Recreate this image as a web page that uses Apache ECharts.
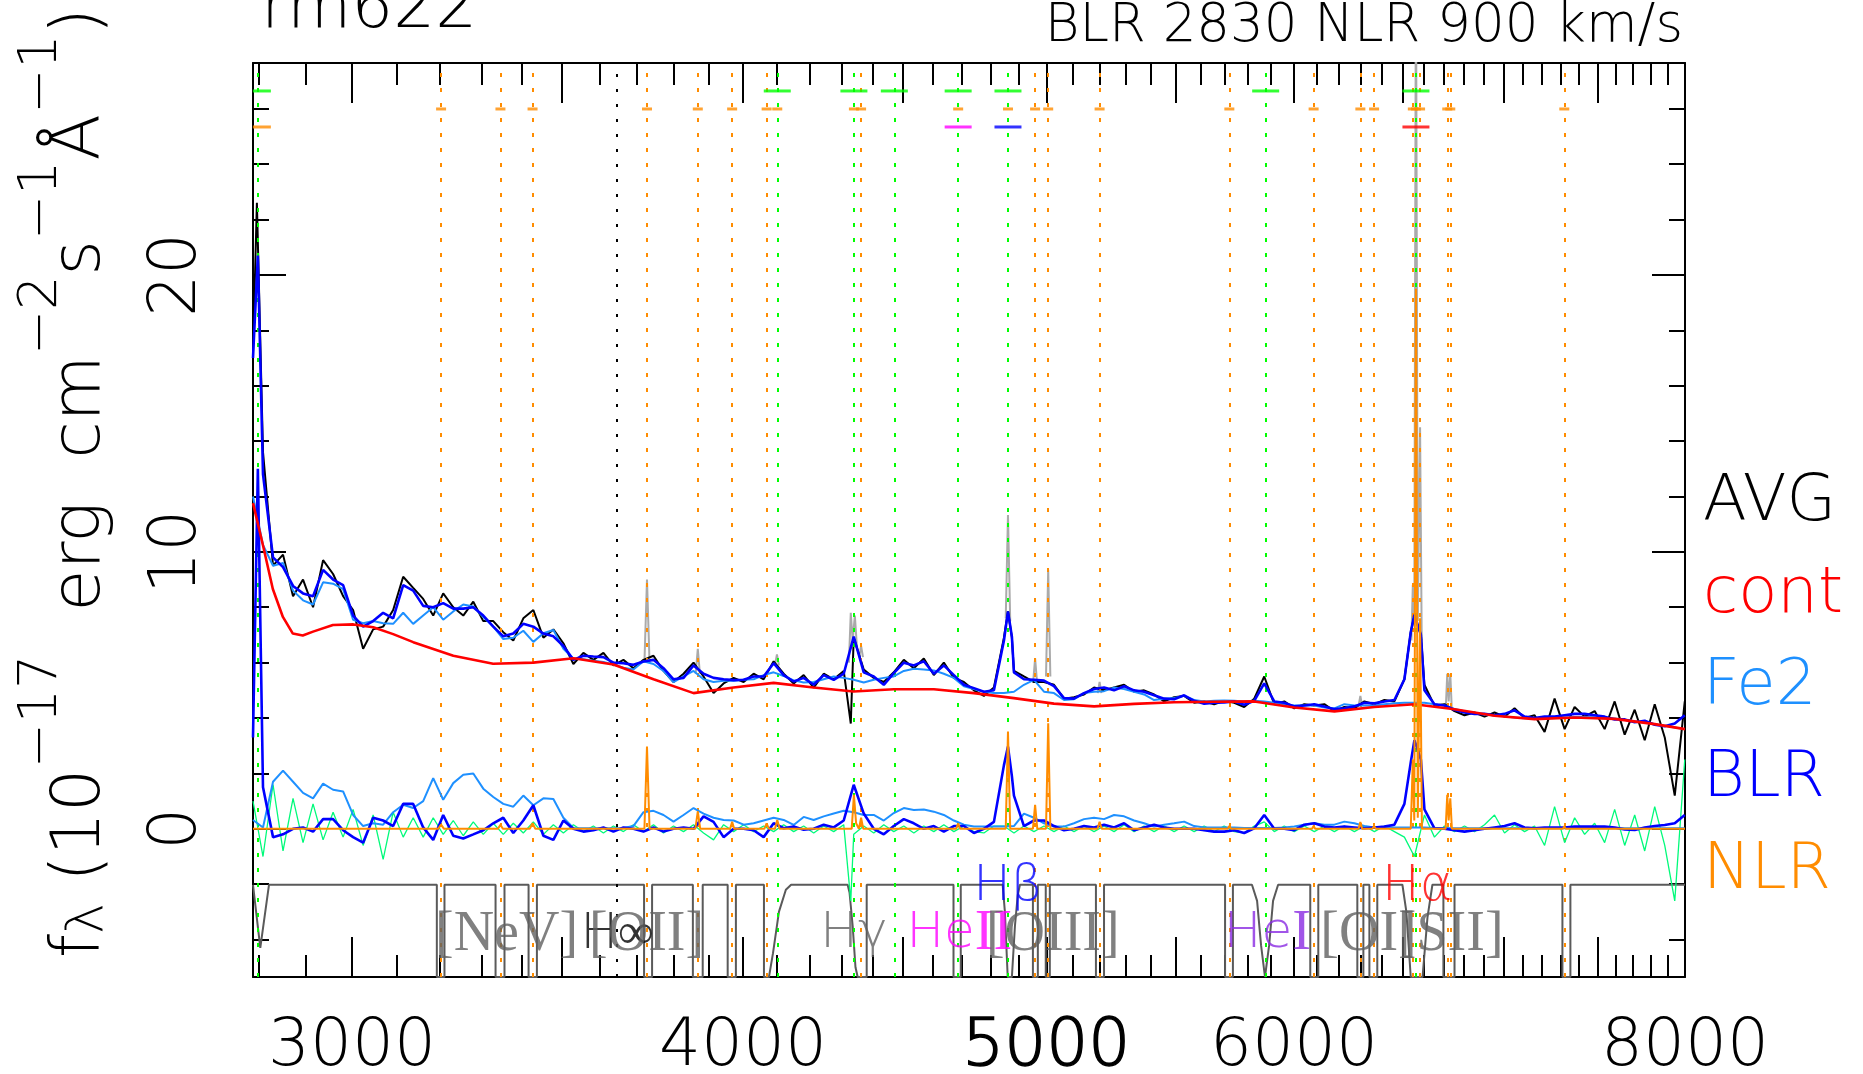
<!DOCTYPE html>
<html>
<head>
<meta charset="utf-8">
<title>rm622</title>
<script src="https://cdn.jsdelivr.net/npm/echarts@6/dist/echarts.min.js"></script>
<style>
  html, body { margin: 0; padding: 0; background: #fff; }
  #chart { width: 1863px; height: 1074px; }
</style>
</head>
<body>
<div id="chart"></div>
<script>
// spectrum sampling wavelengths (A), log-spaced pixels
const wave = [
  2789.0, 2809.6, 2830.4, 2851.3, 2872.4, 2893.6, 2915.0, 2936.6, 2958.3, 2980.2, 3002.2, 3024.4,
  3046.8, 3069.3, 3092.0, 3114.9, 3137.9, 3161.1, 3184.5, 3208.0, 3231.8, 3255.7, 3279.8, 3304.0,
  3328.4, 3353.0, 3377.8, 3402.8, 3428.0, 3453.4, 3478.9, 3504.6, 3530.5, 3556.6, 3582.9, 3609.4,
  3636.1, 3663.0, 3690.0, 3717.4, 3744.9, 3772.6, 3800.5, 3828.6, 3856.9, 3885.4, 3914.1, 3943.1,
  3972.3, 4001.7, 4031.3, 4061.1, 4091.1, 4121.4, 4151.8, 4182.5, 4213.4, 4244.6, 4276.0, 4307.6,
  4339.4, 4371.5, 4403.8, 4436.4, 4469.2, 4502.3, 4535.6, 4569.1, 4602.9, 4636.9, 4671.2, 4705.8,
  4740.6, 4775.7, 4811.0, 4846.6, 4882.4, 4918.5, 4954.9, 4991.5, 5028.4, 5065.6, 5103.0, 5140.8,
  5178.8, 5217.1, 5255.7, 5294.6, 5333.7, 5373.1, 5412.9, 5452.9, 5493.2, 5533.8, 5574.7, 5616.0,
  5657.5, 5699.3, 5741.5, 5783.9, 5826.7, 5869.8, 5913.2, 5957.0, 6001.0, 6045.4, 6090.1, 6135.1,
  6180.5, 6226.2, 6272.3, 6318.7, 6365.3, 6412.4, 6459.8, 6507.5, 6555.7, 6604.2, 6653.0, 6702.2,
  6751.8, 6801.7, 6852.0, 6902.7, 6953.7, 7005.1, 7056.9, 7109.1, 7161.7, 7214.7, 7268.0, 7321.8,
  7375.9, 7430.4, 7485.4, 7540.7, 7596.5, 7652.7, 7709.3, 7766.3, 7823.7, 7881.6, 7939.9, 7998.6
]

// AVG spectrum (black)
const avgFlux = [
  17.2, 13.6, 9.5, 9.9, 8.4, 9.0, 8.0, 9.7, 9.2, 8.4, 7.9, 6.5,
  7.2, 7.3, 7.9, 9.1, 8.7, 8.3, 7.7, 8.5, 8.0, 7.7, 8.2, 7.5,
  7.5, 7.1, 6.8, 7.6, 7.9, 6.9, 7.2, 6.7, 5.95, 6.35, 6.1, 6.35,
  5.9, 6.1, 5.8, 6.1, 6.25, 5.7, 5.3, 5.6, 6.0, 5.5, 4.9, 5.25,
  5.45, 5.3, 5.6, 5.4, 6.05, 5.6, 5.25, 5.55, 5.1, 5.6, 5.4, 5.7,
  6.9, 5.75, 5.45, 5.3, 5.65, 6.1, 5.8, 6.15, 5.55, 6.0, 5.45, 5.3,
  5.0, 4.8, 5.1, 6.9, 5.7, 5.5, 5.3, 5.3, 5.2, 4.7, 4.75, 4.85,
  5.1, 5.0, 5.1, 5.2, 4.95, 5.0, 4.85, 4.6, 4.75, 4.8, 4.55, 4.6,
  4.5, 4.62, 4.55, 4.4, 4.7, 5.5, 4.5, 4.6, 4.35, 4.5, 4.45, 4.5,
  4.25, 4.4, 4.35, 4.6, 4.5, 4.65, 4.6, 5.4, 7.7, 5.2, 4.45, 4.5,
  4.25, 4.1, 4.2, 4.05, 4.2, 4.05, 4.35, 4.0, 4.1, 3.5, 4.7, 3.6,
  4.4, 4.05, 4.25, 3.6, 4.6, 3.4, 4.3, 3.2, 4.5, 3.3, 1.2, 4.6
]
const avgExtra = [[2797, 22.6], [4330, 3.8], [4861, 7.85], [4875, 6.9], [6538, 7.1], [6587, 7.0]]

// full model: cont + Fe2 + BLR (blue, top)
const modelFlux = [
  17.0, 12.8, 9.8, 9.45, 8.77, 8.5, 8.4, 9.35, 9.0, 8.8, 7.7, 7.3,
  7.5, 7.8, 7.6, 8.8, 8.6, 8.05, 8.0, 8.15, 7.95, 7.95, 8.0, 7.7,
  7.3, 6.95, 7.05, 7.4, 7.3, 7.05, 6.95, 6.6, 6.1, 6.25, 6.22, 6.2,
  6.0, 5.98, 5.92, 6.04, 6.1, 5.8, 5.4, 5.45, 5.9, 5.6, 5.45, 5.4,
  5.37, 5.38, 5.5, 5.5, 5.98, 5.55, 5.32, 5.45, 5.2, 5.55, 5.38, 5.6,
  6.94, 5.65, 5.5, 5.2, 5.62, 6.0, 5.9, 6.05, 5.6, 5.9, 5.55, 5.2,
  5.08, 4.95, 5.0, 6.8, 5.65, 5.4, 5.38, 5.35, 5.15, 4.72, 4.7, 4.9,
  5.05, 5.1, 5.0, 5.15, 5.0, 4.95, 4.82, 4.7, 4.68, 4.82, 4.62, 4.52,
  4.55, 4.56, 4.6, 4.48, 4.62, 5.25, 4.6, 4.55, 4.42, 4.45, 4.5, 4.42,
  4.32, 4.35, 4.42, 4.55, 4.53, 4.6, 4.65, 5.4, 7.73, 5.0, 4.5, 4.45,
  4.3, 4.2, 4.15, 4.15, 4.1, 4.15, 4.28, 4.05, 4.0, 4.05, 4.05, 4.1,
  4.15, 4.15, 4.1, 4.05, 3.95, 3.95, 3.85, 3.9, 3.76, 3.7, 3.8, 4.1
]
const modelExtra = [[2799, 20.7], [4861, 7.85], [4875, 6.94], [6538, 7.1], [6587, 7.0]]

// cont + Fe2 (light blue, top)
const fe2TopFlux = [
  12.0, 10.25, 9.5, 9.6, 8.6, 8.25, 8.1, 8.9, 8.85, 8.65, 7.55, 7.42,
  7.5, 7.42, 7.4, 7.8, 7.4, 7.7, 8.0, 7.55, 7.85, 8.1, 8.03, 7.65,
  7.3, 6.85, 6.9, 7.15, 6.75, 7.06, 7.18, 6.5, 6.15, 6.12, 6.07, 6.02,
  5.93, 5.82, 5.75, 6.05, 5.95, 5.7, 5.3, 5.5, 5.7, 5.4, 5.3, 5.35,
  5.35, 5.38, 5.4, 5.55, 5.65, 5.52, 5.36, 5.28, 5.3, 5.4, 5.5, 5.45,
  5.38, 5.28, 5.38, 5.45, 5.5, 5.7, 5.78, 5.75, 5.72, 5.6, 5.45, 5.15,
  5.05, 4.95, 4.9, 4.9, 4.95, 5.2, 5.38, 4.95, 4.9, 4.65, 4.68, 4.9,
  4.95, 4.97, 5.1, 5.05, 4.95, 4.85, 4.65, 4.7, 4.72, 4.8, 4.65, 4.6,
  4.62, 4.63, 4.62, 4.6, 4.62, 4.6, 4.55, 4.5, 4.45, 4.45, 4.45, 4.38,
  4.35, 4.5, 4.45, 4.45, 4.45, 4.5, 4.53, 4.55, 4.55, 4.55, 4.5, 4.45,
  4.33, 4.25, 4.18, 4.13, 4.1, 4.06, 4.02, 3.99, 3.98, 3.99, 4.0, 4.02,
  4.04, 4.04, 4.03, 4.01, 3.98, 3.94, 3.88, 3.83, 3.78, 3.72, 3.66, 3.6
]

// Fe2 component alone (light blue, bottom)
const fe2Flux = [
  0.32, 0.05, 1.7, 2.1, 1.7, 1.3, 1.1, 1.63, 1.41, 1.35, 0.5, 0.1,
  0.2, 0.15, 0.6, 0.87, 0.75, 1.0, 1.83, 1.05, 1.65, 1.95, 2.0, 1.45,
  1.15, 0.9, 0.8, 1.2, 0.85, 1.1, 1.08, 0.4, 0.03, 0.02, 0.02, 0.02,
  0.02, 0.03, 0.1, 0.6, 0.65, 0.5, 0.26, 0.5, 0.75, 0.55, 0.4, 0.32,
  0.3, 0.15, 0.2, 0.3, 0.4, 0.32, 0.14, 0.43, 0.32, 0.45, 0.55, 0.65,
  0.6, 0.5, 0.5, 0.3, 0.57, 0.75, 0.68, 0.7, 0.62, 0.5, 0.3, 0.15,
  0.08, 0.08, 0.08, 0.08, 0.1, 0.55, 0.4, 0.2, 0.08, 0.08, 0.2, 0.35,
  0.4, 0.35, 0.5, 0.45, 0.3, 0.2, 0.08, 0.15, 0.2, 0.26, 0.1, 0.05,
  0.05, 0.05, 0.05, 0.03, 0.03, 0.03, 0.03, 0.05, 0.08, 0.15, 0.2, 0.15,
  0.15, 0.26, 0.2, 0.1, 0.05, 0.05, 0.05, 0.05, 0.05, 0.05, 0.03, 0.03,
  0.02, 0.02, 0.02, 0.02, 0.02, 0.02, 0.02, 0.02, 0.02, 0.02, 0.02, 0.02,
  0.02, 0.02, 0.02, 0.02, 0.02, 0.02, 0.02, 0.02, 0.02, 0.02, 0.02, 0.02
]

// broad-line component alone (blue, bottom)
const blrFlux = [
  3.3, 1.5, -0.3, -0.2, 0.0, 0.05, -0.1, 0.35, 0.35, -0.05, -0.3, -0.5,
  0.4, 0.3, 0.1, 0.9, 0.9, 0.05, -0.4, 0.5, -0.25, -0.35, -0.2, -0.05,
  0.2, 0.4, -0.15, 0.3, 0.85, -0.25, -0.4, 0.3, 0.0, -0.1, -0.05, 0.05,
  -0.1, 0.05, 0.0, -0.1, 0.05, -0.1, 0.0, 0.05, 0.0, 0.45, 0.25, -0.3,
  0.0, 0.0, -0.05, -0.3, 0.2, 0.02, 0.08, -0.03, 0.0, 0.15, 0.05, 0.3,
  1.59, 0.55, 0.0, -0.2, 0.1, 0.35, 0.2, 0.0, 0.1, -0.1, 0.1, 0.1,
  -0.15, 0.0, 0.25, 2.3, 1.2, 0.1, 0.3, 0.3, 0.1, -0.05, 0.0, 0.1,
  0.05, 0.15, 0.05, 0.2, -0.05, 0.05, 0.15, 0.05, 0.0, 0.0, 0.0, -0.05,
  -0.1, -0.1, -0.05, -0.15, 0.02, 0.5, 0.0, 0.0, -0.05, 0.15, 0.2, 0.08,
  0.05, 0.08, 0.05, 0.02, 0.05, 0.08, 0.15, 0.9, 3.2, 0.7, 0.02, 0.0,
  -0.05, -0.1, -0.05, 0.0, 0.05, 0.1, 0.2, 0.05, 0.02, 0.05, 0.05, 0.05,
  0.08, 0.08, 0.08, 0.08, 0.05, -0.02, -0.04, 0.05, 0.1, 0.14, 0.2, 0.5
]
const blrExtra = [[2799, 13.0], [4861, 2.97], [4875, 1.9], [6538, 2.4], [6587, 2.5]]

// fit residual (green)
const residFlux = [
  1.0, -1.0, 1.6, -0.8, 1.1, -0.5, 0.9, -0.4, 0.6, -0.3, 0.7, -0.6,
  0.5, -1.1, 0.6, -0.3, 0.4, -0.3, 0.4, -0.2, 0.3, -0.25, 0.25, -0.2,
  0.2, -0.2, 0.2, -0.15, 0.25, -0.2, 0.15, -0.15, 0.15, -0.1, 0.1, -0.15,
  0.1, -0.1, 0.15, -0.1, 0.15, -0.15, 0.1, -0.1, 0.15, -0.15, -0.4, 0.15,
  -0.1, 0.15, -0.1, 0.1, -0.1, 0.15, -0.1, 0.1, -0.15, 0.1, -0.1, 0.15,
  -0.2, 0.1, -0.15, 0.15, -0.1, 0.1, -0.15, 0.1, -0.1, 0.15, -0.1, 0.1,
  -0.1, -0.15, 0.1, 0.1, -0.15, 0.1, -0.1, 0.1, -0.1, 0.1, -0.1, 0.1,
  -0.1, 0.1, -0.1, 0.15, -0.1, 0.1, -0.1, 0.1, -0.1, 0.1, -0.1, 0.1,
  -0.1, 0.1, -0.1, -0.15, 0.1, 0.25, -0.1, 0.1, -0.1, 0.1, -0.1, 0.1,
  -0.1, 0.1, -0.1, 0.1, -0.1, 0.1, -0.1, -0.3, -1.0, 0.5, -0.3, 0.1,
  -0.1, 0.1, -0.1, 0.15, 0.5, -0.15, 0.15, -0.1, 0.1, -0.6, 0.8, -0.5,
  0.4, -0.2, 0.2, -0.5, 0.7, -0.6, 0.5, -0.8, 0.8, -0.6, -2.6, 2.5
]
const residExtra = [[4330, -2.6]]

// power-law + Balmer continuum (red)
const contFlux = [
  [2789, 11.76], [2810, 10.2], [2830, 8.66], [2851, 7.65], [2872, 7.05], [2893, 6.98],
  [2915, 7.12], [2958, 7.36], [3003, 7.38], [3047, 7.28], [3092, 7.03], [3138, 6.74],
  [3232, 6.25], [3328, 5.96], [3428, 6.0], [3531, 6.16], [3636, 5.93], [3745, 5.4],
  [3857, 4.9], [3972, 5.1], [4091, 5.27], [4213, 5.1], [4339, 4.96], [4469, 5.04],
  [4603, 5.04], [4741, 4.9], [4882, 4.72], [5028, 4.52], [5179, 4.42], [5334, 4.51],
  [5493, 4.57], [5658, 4.59], [5827, 4.6], [6001, 4.38], [6181, 4.24], [6365, 4.4],
  [6556, 4.5], [6752, 4.32], [6954, 4.08], [7162, 3.96], [7376, 4.02], [7597, 3.97],
  [7824, 3.78], [8000, 3.6]
]

// narrow-line component (orange, bottom)
const nlrFlux = [
  [2789, 0], [3196, 0], [3203, 0.15], [3210, 0], [3340, 0], [3346, 0.15], [3352, 0],
  [3419, 0], [3426, 0.2], [3433, 0], [3720, 0], [3727, 2.97], [3734, 0],
  [3862, 0], [3869, 0.63], [3876, 0], [3962, 0], [3968, 0.25], [3974, 0],
  [4063, 0], [4070, 0.2], [4077, 0], [4095, 0], [4102, 0.32], [4109, 0],
  [4333, 0], [4340, 1.23], [4347, 0.2], [4356, 0], [4363, 0.4], [4370, 0],
  [4679, 0], [4686, 0.2], [4693, 0], [4853, 0], [4861, 3.51], [4869, 0],
  [4951, 0], [4959, 0.87], [4967, 0], [4999, 0], [5007, 3.81], [5015, 0],
  [5192, 0], [5200, 0.25], [5208, 0], [5714, 0], [5721, 0.1], [5728, 0],
  [6080, 0], [6087, 0.1], [6094, 0], [6292, 0], [6300, 0.25], [6308, 0],
  [6356, 0], [6364, 0.1], [6372, 0], [6538, 0], [6548, 2.5], [6555, 0.3],
  [6563, 19.5], [6572, 0.4], [6583, 7.6], [6592, 0], [6708, 0], [6716, 1.23],
  [6723, 0.3], [6731, 1.1], [6739, 0], [7313, 0], [7320, 0.1], [7327, 0], [8000, 0]
]

// observed spectrum where it rises above AVG at the narrow lines (grey)
const graySpikes = [
  [[3720, 6.0], [3727, 9.0], [3734, 6.0]],
  [[3863, 5.6], [3869, 6.5], [3875, 5.6]],
  [[4095, 5.9], [4101, 6.3], [4107, 5.9]],
  [[4324, 6.0], [4330, 7.8], [4336, 6.8], [4343, 7.7], [4350, 6.5]],
  [[4357, 6.2], [4363, 6.6], [4369, 6.2]],
  [[4853, 7.6], [4861, 11.33], [4869, 7.5]],
  [[4952, 5.3], [4959, 6.16], [4966, 5.3]],
  [[4999, 5.5], [5007, 9.35], [5015, 5.5]],
  [[5193, 4.9], [5200, 5.3], [5207, 4.9]],
  [[6293, 4.5], [6300, 4.8], [6307, 4.5]],
  [[6541, 6.8], [6548, 8.8], [6555, 7.4], [6563, 32], [6572, 7.5], [6583, 14.5], [6591, 6.8]],
  [[6709, 4.4], [6716, 5.6], [6723, 4.6], [6731, 5.6], [6738, 4.4]]
]

// fitting windows (dark grey): ON inside a window, OFF outside
const ON = -2.02
const OFF = -5.35
const fitMask = [
  [2789, ON], [2793, ON], [2804, -4.3], [2822, ON], [3193, ON], [3193, OFF], [3211, OFF], [3211, ON],
  [3334, ON], [3334, OFF], [3356, OFF], [3356, ON], [3416, ON], [3416, OFF], [3437, OFF], [3437, ON],
  [3719, ON], [3719, OFF], [3741, OFF], [3741, ON], [3855, ON], [3855, OFF], [3883, OFF], [3883, ON],
  [3955, ON], [3955, OFF], [3979, OFF], [3979, ON], [4062, ON], [4062, OFF], [4077, OFF], [4089, -4.5],
  [4107, -3.0], [4128, -2.2], [4144, ON], [4320, ON], [4326, -2.3], [4336, -3.5], [4345, -5.0], [4352, OFF],
  [4381, OFF], [4381, ON], [4670, ON], [4670, OFF], [4695, OFF], [4695, ON], [4842, ON], [4850, -3.0],
  [4860, OFF], [4875, OFF], [4886, -3.5], [4896, -2.4], [4904, ON], [4951, ON], [4951, OFF], [4969, OFF],
  [4969, ON], [4998, ON], [4998, OFF], [5013, OFF], [5013, ON], [5186, ON], [5186, OFF], [5217, OFF],
  [5217, ON], [5703, ON], [5703, OFF], [5736, OFF], [5736, ON], [5817, ON], [5839, -2.6], [5856, -4.2],
  [5873, OFF], [5891, -4.2], [5908, -2.6], [5930, ON], [6072, ON], [6072, OFF], [6108, OFF], [6108, ON],
  [6286, ON], [6286, OFF], [6314, OFF], [6314, ON], [6342, ON], [6342, OFF], [6379, OFF], [6379, ON],
  [6498, ON], [6517, -3.0], [6538, OFF], [6595, OFF], [6619, -3.2], [6643, ON], [6697, ON], [6697, OFF],
  [6752, OFF], [6752, ON], [7310, ON], [7310, OFF], [7353, OFF], [7353, ON], [8000, ON]
]

// line positions (A)
const broadLines = [2798, 4102, 4340, 4471, 4686, 4861, 5876, 6563]
const narrowLines = [2798, 3203, 3346, 3426, 3727, 3869, 3968, 4070, 4102, 4340, 4363, 4686, 4861,
  4959, 5007, 5200, 5721, 6087, 6300, 6364, 6548, 6563, 6583, 6716, 6731, 7320]
const balmerLimit = 3646
const fittedLines = [2798, 4686, 4861, 6563]
const fittedColors = ['#ff8c00', '#ff00ff', '#0000ff', '#ff0000']
const markerRows = [26.64, 25.99, 25.34]

// line labels along the bottom ({s|..} sans part, {r|..} serif part)
const labelText = ['{r|[NeV]}', '{s|H∞}', '{r|[OII]}', '{s|Hγ}', '{s|He}{r|II}', '{r|[OIII]}',
  '{s|Hβ}', '{s|He}{r|I}', '{r|[OI]}', '{r|[SII]}', '{s|Hα}']
const labelLam = [3361, 3646, 3726, 4340, 4690, 5024, 4861, 5883, 6338, 6733, 6570]
const labelLevel = [-3.85, -3.85, -3.85, -3.8, -3.8, -3.85, -2.1, -3.8, -3.85, -3.85, -2.1]
const labelColor = ['#606060', '#000000', '#606060', '#606060', '#ff00ff', '#606060', '#0000ff',
  '#8a2be2', '#606060', '#606060', '#ff0000']

// axes
const xMajorTicks = [3000, 3500, 4000, 4500, 5000, 5500, 6000, 6500, 7000, 7500, 8000]
const xMinorTicks = [2800, 2900, 3100, 3200, 3300, 3400, 3600, 3700, 3800, 3900, 4100, 4200, 4300,
  4400, 4600, 4700, 4800, 4900, 5100, 5200, 5300, 5400, 5600, 5700, 5800, 5900, 6100, 6200, 6300,
  6400, 6600, 6700, 6800, 6900, 7100, 7200, 7300, 7400, 7600, 7700, 7800, 7900]
const xTickLabels = [3000, 4000, 5000, 6000, 8000]
const yMajorTicks = [0, 10, 20]
const yMinorTicks = [-4, -2, 2, 4, 6, 8, 12, 14, 16, 18, 22, 24, 26]
const X_MIN = 2789
const X_MAX = 8000
const Y_MIN = -5.35
const Y_MAX = 27.65

const legendText = ['AVG', 'cont', 'Fe2', 'BLR', 'NLR']
const legendColor = ['#000000', '#ff0000', '#1e90ff', '#0000ff', '#ff8c00']

const FONT = 'DejaVu Sans'
const SERIF = 'Liberation Serif'
const W = 200

const onGrid = (vals, extra = []) =>
  vals.map((v, i) => [wave[i], v]).concat(extra).sort((a, b) => a[0] - b[0])

const lineSeries = (data, color, width, z) => ({
  type: 'line',
  data,
  showSymbol: false,
  symbol: 'none',
  silent: true,
  clip: true,
  z,
  lineStyle: { color, width },
})

const axisLineStyle = { color: '#000', width: 2 }

const xAxisDef = (position, ticks, len, withLine, labels) => ({
  type: 'log',
  min: X_MIN,
  max: X_MAX,
  position,
  splitLine: { show: false },
  axisLine: { show: withLine, onZero: false, lineStyle: axisLineStyle },
  axisTick: { show: true, inside: true, length: len, customValues: ticks, lineStyle: axisLineStyle },
  axisLabel: labels
    ? {
        show: true,
        customValues: labels,
        margin: 38,
        color: '#000',
        fontFamily: FONT,
        fontWeight: W,
        fontSize: 66,
        formatter: (v) => {
          const s = String(Math.round(v))
          return s === '5000' ? '{b|' + s + '}' : s
        },
        rich: {
          b: { fontFamily: FONT, fontWeight: W, fontSize: 66, color: '#000', textBorderColor: '#000', textBorderWidth: 1.5 },
        },
      }
    : { show: false },
})

const yAxisDef = (position, ticks, len, withLine, labels) => ({
  type: 'value',
  min: Y_MIN,
  max: Y_MAX,
  position,
  splitLine: { show: false },
  axisLine: { show: withLine, onZero: false, lineStyle: axisLineStyle },
  axisTick: { show: true, inside: true, length: len, customValues: ticks, lineStyle: axisLineStyle },
  axisLabel: labels
    ? {
        show: true,
        customValues: labels,
        rotate: 90,
        margin: 42,
        color: '#000',
        fontFamily: FONT,
        fontWeight: W,
        fontSize: 66,
      }
    : { show: false },
})

// vertical dotted line markers
const vlines = [
  ...narrowLines.map((l) => ({ xAxis: l, lineStyle: { color: '#ff8c00', type: [4, 11], width: 2 } })),
  ...broadLines.map((l) => ({ xAxis: l, lineStyle: { color: '#00ff00', type: [4, 11], width: 2 } })),
  { xAxis: balmerLimit, lineStyle: { color: '#000000', type: [3, 12], width: 2 } },
]

// short dashes along the top
const edgeDash = (lam) => (lam < 2800 ? { symbolSize: [18, 3], symbolOffset: [4.5, 0] } : {})
const markerData = [
  ...broadLines.map((l) => ({ value: [l, markerRows[0]], symbolSize: [27, 3], itemStyle: { color: '#00ff00' }, ...edgeDash(l) })),
  ...narrowLines.filter((l) => l > 2800).map((l) => ({ value: [l, markerRows[1]], symbolSize: [10, 3], itemStyle: { color: '#ff8c00' } })),
  ...fittedLines.map((l, i) => ({ value: [l, markerRows[2]], symbolSize: [27, 3], itemStyle: { color: fittedColors[i] }, ...edgeDash(l) })),
]

const labelData = labelText.map((t, i) => ({
  value: [labelLam[i], labelLevel[i]],
  label: {
    show: true,
    position: 'inside',
    formatter: t,
    rich: {
      s: { fontFamily: FONT, fontWeight: W, fontSize: 50, color: labelColor[i] },
      r: { fontFamily: SERIF, fontWeight: 'normal', fontSize: 56, color: labelColor[i] },
    },
  },
}))

const chart = echarts.init(document.getElementById('chart'), null, { renderer: 'canvas' })

const option = {
  backgroundColor: '#ffffff',
  animation: false,
  grid: { left: 253, top: 63, width: 1432, height: 914, outerBoundsMode: 'none' },
  xAxis: [
    xAxisDef('bottom', xMajorTicks, 40, true, xTickLabels),
    xAxisDef('bottom', xMinorTicks, 22, false, null),
    xAxisDef('top', xMajorTicks, 40, true, null),
    xAxisDef('top', xMinorTicks, 22, false, null),
  ],
  yAxis: [
    yAxisDef('left', yMajorTicks, 33, true, yMajorTicks),
    yAxisDef('left', yMinorTicks, 16, false, null),
    yAxisDef('right', yMajorTicks, 33, true, null),
    yAxisDef('right', yMinorTicks, 16, false, null),
  ],
  series: [
    {
      ...lineSeries(fitMask, '#5a5a5a', 2, 2),
      markLine: { silent: true, symbol: ['none', 'none'], label: { show: false }, animation: false, data: vlines },
    },
    ...graySpikes.map((s) => lineSeries(s, '#aaaaaa', 2, 3)),
    lineSeries(onGrid(avgFlux, avgExtra), '#000000', 2, 4),
    lineSeries(onGrid(residFlux, residExtra), '#00fa7a', 1.3, 5),
    lineSeries(onGrid(fe2Flux), '#1e90ff', 2, 6),
    lineSeries(onGrid(fe2TopFlux), '#1e90ff', 2, 6),
    lineSeries(onGrid(blrFlux, blrExtra), '#0000ff', 2.6, 7),
    lineSeries(onGrid(modelFlux, modelExtra), '#0000ff', 2.6, 7),
    lineSeries(contFlux, '#ff0000', 2.6, 8),
    lineSeries(nlrFlux, '#ff8c00', 2, 9),
    { type: 'scatter', symbol: 'rect', silent: true, z: 10, data: markerData },
    { type: 'scatter', symbolSize: 0, silent: true, z: 11, data: labelData },
  ],
  graphic: [
    {
      type: 'text', x: 261, y: 10, silent: true,
      style: { text: 'rm622', fill: '#000', fontFamily: FONT, fontWeight: W, fontSize: 66,
        align: 'left', verticalAlign: 'middle', textAlign: 'left', textVerticalAlign: 'middle' },
    },
    {
      type: 'text', x: 1683, y: 27, silent: true,
      style: { text: 'BLR 2830 NLR 900 km/s', fill: '#000', fontFamily: FONT, fontWeight: W, fontSize: 53,
        align: 'right', verticalAlign: 'middle', textAlign: 'right', textVerticalAlign: 'middle' },
    },
    {
      type: 'text', x: 15, y: 958, rotation: Math.PI / 2, silent: true,
      style: {
        text: '{m|f}{sb|λ}{m| (10}{sp|−17}{m|  erg  cm}{sp|−2}{m|s}{sp|−1}{m|Å}{sp|−1}{m|)}',
        fill: '#000',
        align: 'left', verticalAlign: 'top', textAlign: 'left', textVerticalAlign: 'top',
        rich: {
          m: { fontFamily: FONT, fontWeight: W, fontSize: 68, lineHeight: 100, verticalAlign: 'bottom', fill: '#000' },
          sp: { fontFamily: FONT, fontWeight: W, fontSize: 54, lineHeight: 52, verticalAlign: 'top', fill: '#000' },
          sb: { fontFamily: FONT, fontWeight: W, fontSize: 52, lineHeight: 30, verticalAlign: 'bottom', fill: '#000' },
        },
      },
    },
    ...legendText.map((t, i) => ({
      type: 'text', x: 1703, y: 503 + i * 92, silent: true,
      style: { text: t, fill: legendColor[i], fontFamily: FONT, fontWeight: W, fontSize: 64,
        align: 'left', verticalAlign: 'middle', textAlign: 'left', textVerticalAlign: 'middle' },
    })),
  ],
}

chart.setOption(option)
</script>
</body>
</html>
